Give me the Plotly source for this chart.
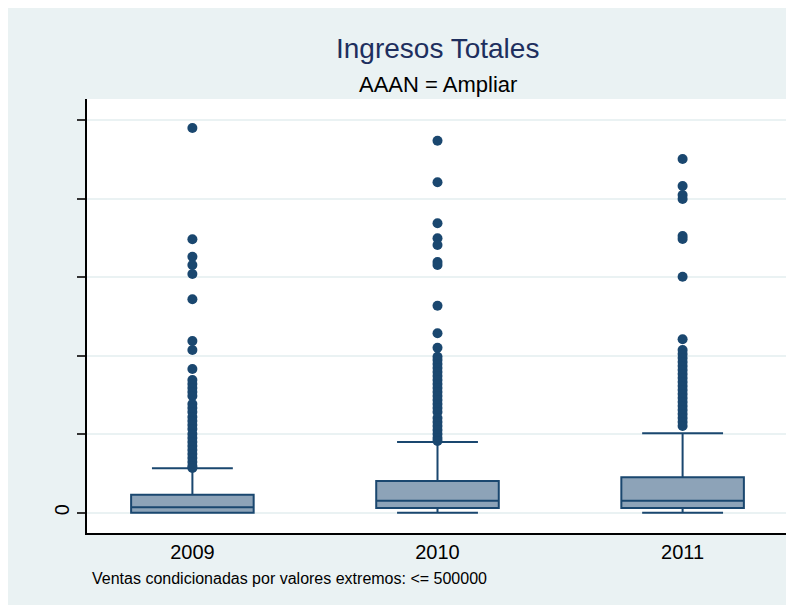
import plotly.graph_objects as go

years = ["2009", "2010", "2011"]
q1 = [0, 6000, 6000]
median = [6900, 15300, 15300]
q3 = [22900, 40400, 45100]
lowerfence = [0, 0, 0]
upperfence = [56600, 90000, 101100]

outliers_2009 = [490000, 348300, 326100, 315600, 304100, 271800, 218700, 207300, 183100,
                 169000, 164000, 158900, 153800, 148700, 138500, 133400, 128200, 121900,
                 116800, 111700, 106600, 100300, 95200, 90100, 85000, 79900, 74800, 69700,
                 64600, 59500, 57000]
outliers_2010 = [473900, 420900, 368700, 349600, 341000, 319400, 315500, 263700, 228500,
                 210200, 198700, 194500, 189400, 184300, 179200, 174100, 169000, 164000,
                 158900, 153800, 148700, 143600, 138500, 133400, 128200, 120600, 115500,
                 110400, 105300, 100300, 95200, 91300]
outliers_2011 = [450600, 416200, 404700, 399600, 352500, 348700, 300600, 220900, 207300,
                 202200, 197100, 192000, 186900, 181800, 176700, 171600, 166500, 161400,
                 156300, 151200, 146100, 141000, 135900, 130800, 125700, 120600, 115500,
                 110400]

ytick_vals = [0, 100000, 200000, 300000, 400000, 500000]
ytick_text = ["0", "", "", "", "", ""]

title_text = "Ingresos Totales"
subtitle_text = "AAAN = Ampliar"
note_text = "Ventas condicionadas por valores extremos: <= 500000"

navy = "#1A476F"
fill = "#8DA3B8"
bg = "#EAF2F3"

fig = go.Figure()
fig.add_trace(go.Box(
    x=years, q1=q1, median=median, q3=q3,
    lowerfence=lowerfence, upperfence=upperfence,
    boxpoints=False, width=0.5, whiskerwidth=0.66,
    fillcolor=fill, line=dict(color=navy, width=2),
    showlegend=False, hoverinfo="skip",
))
ox = ["2009"] * len(outliers_2009) + ["2010"] * len(outliers_2010) + ["2011"] * len(outliers_2011)
oy = outliers_2009 + outliers_2010 + outliers_2011
fig.add_trace(go.Scatter(
    x=ox, y=oy, mode="markers",
    marker=dict(color=navy, size=10, line=dict(width=0)),
    showlegend=False, hoverinfo="skip",
))

W, H = 794, 605
OFF = 8  # page offset seen in the reference image
L, T = 79, 91
pw, ph = 701, 434
R = W - L - pw
B = H - T - ph

def px_x(p):
    return (p - OFF - L) / pw

def px_y(p):
    return (H - B - (p - OFF)) / ph

fig.update_layout(
    width=W, height=H,
    margin=dict(l=L, r=R, t=T, b=B),
    paper_bgcolor=bg,
    plot_bgcolor="white",
    font=dict(family="Liberation Sans, Arial, sans-serif", color="black"),
    annotations=[
        dict(text=title_text, xref="paper", yref="paper", x=0.5, y=px_y(48),
             xanchor="center", yanchor="middle", showarrow=False,
             font=dict(size=28, color="#1E2F5E")),
        dict(text=subtitle_text, xref="paper", yref="paper", x=0.5, y=px_y(84),
             xanchor="center", yanchor="middle", showarrow=False,
             font=dict(size=22, color="black")),
        dict(text=note_text, xref="paper", yref="paper", x=px_x(90), y=px_y(578),
             xanchor="left", yanchor="middle", showarrow=False,
             font=dict(size=16, color="black")),
    ],
)
fig.update_xaxes(
    type="category", range=[-0.43, 2.43],
    showline=True, linecolor="black", linewidth=1.5,
    ticks="", showgrid=False, zeroline=False,
    tickfont=dict(size=20, color="black"),
    mirror=False,
)
fig.update_yaxes(
    range=[-25900, 527000],
    tickvals=ytick_vals, ticktext=ytick_text,
    ticks="outside", ticklen=8, tickcolor="#333333", tickwidth=1.5,
    tickangle=-90,
    showline=True, linecolor="black", linewidth=1.5,
    showgrid=True, gridcolor=bg, gridwidth=1.5,
    zeroline=False,
    tickfont=dict(size=20, color="black"),
)

fig.write_html("out.html")
